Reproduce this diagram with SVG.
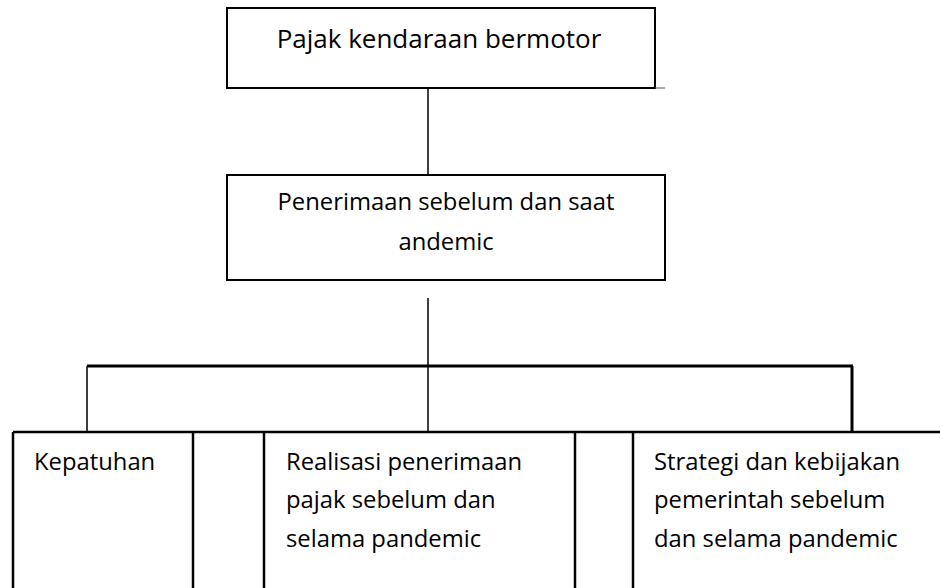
<svg xmlns="http://www.w3.org/2000/svg" width="940" height="588" viewBox="0 0 940 588">
<style>
.box{fill:none;stroke:#000;stroke-width:2}
.cell{fill:none;stroke:#000;stroke-width:2.5}
.conn{fill:none;stroke:#000;stroke-width:1.5}
.bar{fill:none;stroke:#000;stroke-width:3}
text{font-family:"Open Sans","Noto Sans",sans-serif;font-size:23.8px;fill:#000}
.c{text-anchor:middle}
.big{font-size:26px}
</style>
<rect width="940" height="588" fill="#fff"/>
<g id="connectors">
<line class="conn" x1="428" y1="88" x2="428" y2="175"/>
<line class="conn" x1="428" y1="298" x2="428" y2="432"/>
<line class="bar" x1="87" y1="366" x2="853" y2="366"/>
<line class="conn" x1="87" y1="366" x2="87" y2="432"/>
<line class="bar" x1="852" y1="366" x2="852" y2="432"/>
</g>
<g id="n1">
<rect class="box" x="227" y="8" width="428" height="80"/>
<line x1="655" y1="88" x2="665" y2="88" stroke="#555" stroke-width="1"/>
<text class="c big" x="439" y="48">Pajak kendaraan bermotor</text>
</g>
<g id="n2">
<rect class="box" x="227" y="175" width="438" height="105"/>
<text class="c" x="446" y="210">Penerimaan sebelum dan saat</text>
<text class="c" x="446" y="250">andemic</text>
</g>
<g id="row">
<line class="cell" x1="13" y1="432" x2="940" y2="432"/>
<line class="cell" x1="13" y1="432" x2="13" y2="588"/>
<line class="cell" x1="193" y1="432" x2="193" y2="588"/>
<line class="cell" x1="264" y1="432" x2="264" y2="588"/>
<line class="cell" x1="575" y1="432" x2="575" y2="588"/>
<line class="cell" x1="633" y1="432" x2="633" y2="588"/>
</g>
<g id="n3">
<text x="34" y="470">Kepatuhan</text>
</g>
<g id="n4">
<text x="286" y="470">Realisasi penerimaan</text>
<text x="286" y="508">pajak sebelum dan</text>
<text x="286" y="547">selama pandemic</text>
</g>
<g id="n5">
<text x="654" y="470">Strategi dan kebijakan</text>
<text x="654" y="508">pemerintah sebelum</text>
<text x="654" y="547">dan selama pandemic</text>
</g>
</svg>
